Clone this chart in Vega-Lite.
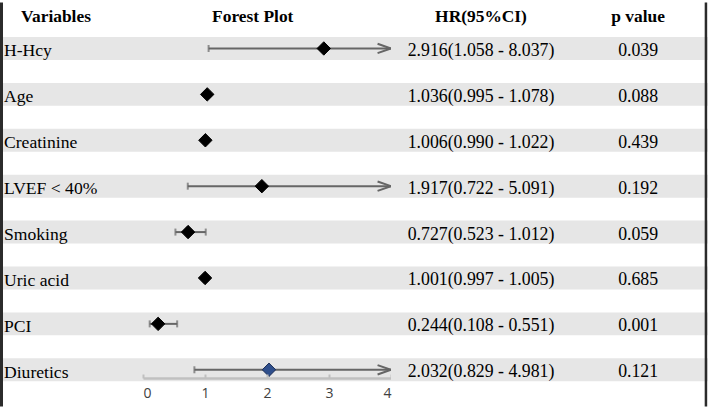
{
  "$schema": "https://vega.github.io/schema/vega-lite/v6.json",
  "autosize": {"type": "pad"},
  "padding": 0,
  "spacing": 0,
  "bounds": "flush",
  "background": "white",
  "config": {"view": {"stroke": null}, "text": {"font": "'Liberation Serif', 'Times New Roman', 'DejaVu Serif', serif"}},
  "datasets": {
    "rows": [
      {"var": "H-Hcy", "hr": 2.916, "lo": 1.058, "hi": 8.037, "ci": "2.916(1.058 - 8.037)", "p": "0.039"},
      {"var": "Age", "hr": 1.036, "lo": 0.995, "hi": 1.078, "ci": "1.036(0.995 - 1.078)", "p": "0.088"},
      {"var": "Creatinine", "hr": 1.006, "lo": 0.990, "hi": 1.022, "ci": "1.006(0.990 - 1.022)", "p": "0.439"},
      {"var": "LVEF < 40%", "hr": 1.917, "lo": 0.722, "hi": 5.091, "ci": "1.917(0.722 - 5.091)", "p": "0.192"},
      {"var": "Smoking", "hr": 0.727, "lo": 0.523, "hi": 1.012, "ci": "0.727(0.523 - 1.012)", "p": "0.059"},
      {"var": "Uric acid", "hr": 1.001, "lo": 0.997, "hi": 1.005, "ci": "1.001(0.997 - 1.005)", "p": "0.685"},
      {"var": "PCI", "hr": 0.244, "lo": 0.108, "hi": 0.551, "ci": "0.244(0.108 - 0.551)", "p": "0.001"},
      {"var": "Diuretics", "hr": 2.032, "lo": 0.829, "hi": 4.981, "ci": "2.032(0.829 - 4.981)", "p": "0.121"}
    ],
    "headers": [
      {"col": "var", "text": "Variables"},
      {"col": "forest", "text": "Forest Plot"},
      {"col": "ci", "text": "HR(95%CI)"},
      {"col": "p", "text": "p value"}
    ]
  },
  "hconcat": [
    {
      "width": 143,
      "height": 408,
      "layer": [
        {
          "data": {"name": "rows"},
          "mark": {"type": "rect", "color": "#e6e6e6"},
          "encoding": {
            "y": {"field": "var", "type": "nominal", "axis": null, "sort": null,
              "scale": {"domain": ["H-Hcy", "Age", "Creatinine", "LVEF < 40%", "Smoking", "Uric acid", "PCI", "Diuretics"], "paddingInner": 0.5, "paddingOuter": 0.6945, "align": 0.5804}}
          }
        },
        {
          "data": {"name": "rows"},
          "mark": {"type": "text", "fontSize": 17.6, "align": "left", "baseline": "alphabetic", "dx": 4, "dy": 8, "color": "black"},
          "encoding": {
            "x": {"datum": 0, "type": "quantitative", "scale": {"domain": [0, 1], "nice": false, "zero": false}, "axis": null},
            "y": {"field": "var", "type": "nominal", "axis": null},
            "text": {"field": "var"}
          }
        },
        {
          "data": {"name": "headers"},
          "transform": [{"filter": "datum.col === 'var'"}],
          "mark": {"type": "text", "fontSize": 17.4, "fontWeight": "bold", "align": "left", "baseline": "alphabetic", "dx": 21, "dy": -15.5, "color": "black"},
          "encoding": {
            "x": {"datum": 0, "type": "quantitative", "axis": null},
            "y": {"datum": "H-Hcy", "type": "nominal", "bandPosition": 0, "axis": null},
            "text": {"field": "text"}
          }
        },
        {
          "mark": {"type": "rule", "color": "#7f7f7f", "strokeWidth": 2},
          "encoding": {"y": {"datum": "H-Hcy", "type": "nominal", "bandPosition": 0, "axis": null}}
        },
        {
          "mark": {"type": "rule", "color": "#7f7f7f", "strokeWidth": 1.5},
          "encoding": {"y": {"datum": "Diuretics", "type": "nominal", "bandPosition": 1, "axis": null}}
        },
        {
          "data": {"name": "headers"},
          "transform": [{"filter": "datum.col === 'var'"}],
          "mark": {"type": "rule", "color": "#2b2b2b", "strokeWidth": 3},
          "encoding": {
            "x": {"datum": 0.0105, "type": "quantitative", "axis": null},
            "y": {"datum": "H-Hcy", "type": "nominal", "bandPosition": -1.5, "axis": null},
            "y2": {"datum": "Diuretics", "bandPosition": 2.1}
          }
        }
      ]
    },
    {
      "width": 248,
      "height": 408,
      "layer": [
        {
          "data": {"name": "rows"},
          "mark": {"type": "rect", "color": "#e6e6e6"},
          "encoding": {
            "y": {"field": "var", "type": "nominal", "axis": null, "sort": null,
              "scale": {"domain": ["H-Hcy", "Age", "Creatinine", "LVEF < 40%", "Smoking", "Uric acid", "PCI", "Diuretics"], "paddingInner": 0.5, "paddingOuter": 0.6945, "align": 0.5804}}
          }
        },
        {
          "mark": {"type": "rule", "color": "#7f7f7f", "strokeWidth": 2},
          "encoding": {"y": {"datum": "H-Hcy", "type": "nominal", "bandPosition": 0, "axis": null}}
        },
        {
          "mark": {"type": "rule", "color": "#7f7f7f", "strokeWidth": 1.5},
          "encoding": {"y": {"datum": "Diuretics", "type": "nominal", "bandPosition": 1, "axis": null}}
        },
        {
          "mark": {"type": "rule", "color": "#c6c6c6", "strokeWidth": 2},
          "encoding": {
            "x": {"datum": 1, "type": "quantitative", "title": null,
              "scale": {"domain": [0, 4], "nice": false, "zero": false, "clamp": true},
              "axis": {"values": [0, 1, 2, 3, 4], "format": "d", "grid": false, "offset": -30, "zindex": 1, "domainColor": "#c0c0c0", "domainWidth": 2.5, "tickColor": "#c0c0c0", "tickWidth": 2, "tickSize": -4, "labelFont": "Open Sans", "labelFontSize": 14, "labelColor": "#404040", "labelPadding": 12, "title": null}},
            "y": {"datum": "H-Hcy", "type": "nominal", "bandPosition": 0.45, "axis": null},
            "y2": {"datum": "Diuretics", "bandPosition": 0.87}
          }
        },
        {
          "data": {"name": "rows"},
          "mark": {"type": "rule", "color": "#666666", "strokeWidth": 2},
          "encoding": {
            "x": {"field": "lo", "type": "quantitative", "title": null},
            "x2": {"field": "hi"},
            "y": {"field": "var", "type": "nominal", "axis": null}
          }
        },
        {
          "data": {"name": "rows"},
          "mark": {"type": "tick", "color": "#666666", "thickness": 2, "size": 7},
          "encoding": {
            "x": {"field": "lo", "type": "quantitative", "title": null},
            "y": {"field": "var", "type": "nominal", "axis": null}
          }
        },
        {
          "data": {"name": "rows"},
          "transform": [{"filter": "datum.hi <= 4"}],
          "mark": {"type": "tick", "color": "#666666", "thickness": 2, "size": 7},
          "encoding": {
            "x": {"field": "hi", "type": "quantitative", "title": null},
            "y": {"field": "var", "type": "nominal", "axis": null}
          }
        },
        {
          "data": {"name": "rows"},
          "transform": [{"filter": "datum.hi > 4"}],
          "mark": {"type": "point", "shape": "M-2,-0.7L0,0L-2,0.7", "filled": false, "stroke": "#666666", "strokeWidth": 2, "size": 180, "opacity": 1},
          "encoding": {
            "x": {"field": "hi", "type": "quantitative", "title": null},
            "y": {"field": "var", "type": "nominal", "axis": null}
          }
        },
        {
          "data": {"name": "rows"},
          "mark": {"type": "point", "shape": "diamond", "filled": true, "size": 180, "opacity": 1, "strokeWidth": 1},
          "encoding": {
            "x": {"field": "hr", "type": "quantitative", "title": null},
            "y": {"field": "var", "type": "nominal", "axis": null},
            "fill": {"condition": {"test": "datum.var === 'Diuretics'", "value": "#2f4f8c"}, "value": "black"},
            "stroke": {"condition": {"test": "datum.var === 'Diuretics'", "value": "#1b2d55"}, "value": "black"}
          }
        },
        {
          "data": {"name": "headers"},
          "transform": [{"filter": "datum.col === 'forest'"}],
          "mark": {"type": "text", "fontSize": 17.4, "fontWeight": "bold", "align": "center", "baseline": "alphabetic", "dy": -15.5, "color": "black"},
          "encoding": {
            "x": {"datum": 1.77, "type": "quantitative", "title": null},
            "y": {"datum": "H-Hcy", "type": "nominal", "bandPosition": 0, "axis": null},
            "text": {"field": "text"}
          }
        }
      ]
    },
    {
      "width": 180,
      "height": 408,
      "layer": [
        {
          "data": {"name": "rows"},
          "mark": {"type": "rect", "color": "#e6e6e6"},
          "encoding": {
            "y": {"field": "var", "type": "nominal", "axis": null, "sort": null,
              "scale": {"domain": ["H-Hcy", "Age", "Creatinine", "LVEF < 40%", "Smoking", "Uric acid", "PCI", "Diuretics"], "paddingInner": 0.5, "paddingOuter": 0.6945, "align": 0.5804}}
          }
        },
        {
          "mark": {"type": "rule", "color": "#7f7f7f", "strokeWidth": 2},
          "encoding": {"y": {"datum": "H-Hcy", "type": "nominal", "bandPosition": 0, "axis": null}}
        },
        {
          "mark": {"type": "rule", "color": "#7f7f7f", "strokeWidth": 1.5},
          "encoding": {"y": {"datum": "Diuretics", "type": "nominal", "bandPosition": 1, "axis": null}}
        },
        {
          "data": {"name": "rows"},
          "mark": {"type": "text", "fontSize": 17.8, "align": "center", "baseline": "alphabetic", "dy": 7.5, "color": "black"},
          "encoding": {
            "x": {"datum": 0.5, "type": "quantitative", "scale": {"domain": [0, 1], "nice": false, "zero": false}, "axis": null},
            "y": {"field": "var", "type": "nominal", "axis": null},
            "text": {"field": "ci"}
          }
        },
        {
          "data": {"name": "headers"},
          "transform": [{"filter": "datum.col === 'ci'"}],
          "mark": {"type": "text", "fontSize": 17.4, "fontWeight": "bold", "align": "center", "baseline": "alphabetic", "dy": -15.5, "color": "black"},
          "encoding": {
            "x": {"datum": 0.5, "type": "quantitative", "axis": null},
            "y": {"datum": "H-Hcy", "type": "nominal", "bandPosition": 0, "axis": null},
            "text": {"field": "text"}
          }
        }
      ]
    },
    {
      "width": 137,
      "height": 408,
      "layer": [
        {
          "data": {"name": "rows"},
          "mark": {"type": "rect", "color": "#e6e6e6"},
          "encoding": {
            "y": {"field": "var", "type": "nominal", "axis": null, "sort": null,
              "scale": {"domain": ["H-Hcy", "Age", "Creatinine", "LVEF < 40%", "Smoking", "Uric acid", "PCI", "Diuretics"], "paddingInner": 0.5, "paddingOuter": 0.6945, "align": 0.5804}}
          }
        },
        {
          "mark": {"type": "rule", "color": "#7f7f7f", "strokeWidth": 2},
          "encoding": {"y": {"datum": "H-Hcy", "type": "nominal", "bandPosition": 0, "axis": null}}
        },
        {
          "mark": {"type": "rule", "color": "#7f7f7f", "strokeWidth": 1.5},
          "encoding": {"y": {"datum": "Diuretics", "type": "nominal", "bandPosition": 1, "axis": null}}
        },
        {
          "data": {"name": "rows"},
          "mark": {"type": "text", "fontSize": 17.8, "align": "center", "baseline": "alphabetic", "dy": 7.5, "color": "black"},
          "encoding": {
            "x": {"datum": 0.49, "type": "quantitative", "scale": {"domain": [0, 1], "nice": false, "zero": false}, "axis": null},
            "y": {"field": "var", "type": "nominal", "axis": null},
            "text": {"field": "p"}
          }
        },
        {
          "data": {"name": "headers"},
          "transform": [{"filter": "datum.col === 'p'"}],
          "mark": {"type": "text", "fontSize": 17.4, "fontWeight": "bold", "align": "center", "baseline": "alphabetic", "dy": -15.5, "color": "black"},
          "encoding": {
            "x": {"datum": 0.49, "type": "quantitative", "axis": null},
            "y": {"datum": "H-Hcy", "type": "nominal", "bandPosition": 0, "axis": null},
            "text": {"field": "text"}
          }
        },
        {
          "data": {"name": "headers"},
          "transform": [{"filter": "datum.col === 'p'"}],
          "mark": {"type": "rule", "color": "#2b2b2b", "strokeWidth": 2.5},
          "encoding": {
            "x": {"datum": 0.985, "type": "quantitative", "axis": null},
            "y": {"datum": "H-Hcy", "type": "nominal", "bandPosition": -1.5, "axis": null},
            "y2": {"datum": "Diuretics", "bandPosition": 2.1}
          }
        }
      ]
    }
  ]
}
